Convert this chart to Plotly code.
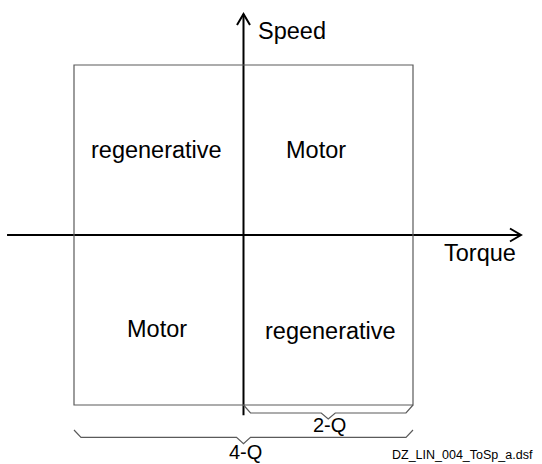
import plotly.graph_objects as go

# ---- data (torque / speed plane, normalised units) ----
box_torque = [-1, 1]            # extent of the operating box
box_speed = [-1, 1]
torque_axis = [-1.395, 1.637]    # extent of the torque axis line
speed_axis = [-1.06, 1.30]       # extent of the speed axis line

quad_labels = ["regenerative", "Motor", "Motor", "regenerative"]
quad_x = [-0.513, 0.428, -0.51, 0.513]
quad_y = [0.50, 0.50, -0.555, -0.565]

axis_titles = ["Speed", "Torque"]
axis_title_x = [0.075, 1.172]
axis_title_y = [1.20, -0.105]

brace_labels = ["2-Q", "4-Q"]
brace_start = [0, -1]
brace_end = [1, 1]
brace_top = [-1.0, -1.147]
brace_mid = [-1.047, -1.19]
brace_tip = [-1.082, -1.228]
brace_label_y = [-1.12, -1.275]

footnote = "DZ_LIN_004_ToSp_a.dsf"

FONT = "Liberation Sans, Arial, sans-serif"
W, H = 542, 464
XR = [-1.4366, 1.7611]
YR = [-1.347, 1.3824]
sx = W / (XR[1] - XR[0])
sy = H / (YR[1] - YR[0])

fig = go.Figure()

# box
fig.add_shape(type="rect", x0=box_torque[0], x1=box_torque[1],
              y0=box_speed[0], y1=box_speed[1],
              line=dict(color="#5a5a5a", width=1.2), fillcolor="rgba(0,0,0,0)")

# axes
fig.add_trace(go.Scatter(x=torque_axis, y=[0, 0], mode="lines",
                         line=dict(color="black", width=2), hoverinfo="skip"))
fig.add_trace(go.Scatter(x=[0, 0], y=speed_axis, mode="lines",
                         line=dict(color="black", width=2), hoverinfo="skip"))
# arrow heads (open chevrons)
ah_len, ah_w = 11, 6.5
tx = torque_axis[1]
fig.add_trace(go.Scatter(x=[tx - ah_len / sx, tx, tx - ah_len / sx],
                         y=[ah_w / sy, 0, -ah_w / sy], mode="lines",
                         line=dict(color="black", width=2), hoverinfo="skip"))
ty = speed_axis[1]
fig.add_trace(go.Scatter(x=[-ah_w / sx, 0, ah_w / sx],
                         y=[ty - ah_len / sy, ty, ty - ah_len / sy], mode="lines",
                         line=dict(color="black", width=2), hoverinfo="skip"))

# braces
cx = 7 / sx
for x0, x1, yt, ym, yp in zip(brace_start, brace_end, brace_top, brace_mid, brace_tip):
    xm = (x0 + x1) / 2
    xs = [x0, x0 + cx, xm - cx, xm, xm + cx, x1 - cx, x1]
    ys = [yt, ym, ym, yp, ym, ym, yt]
    fig.add_trace(go.Scatter(x=xs, y=ys, mode="lines",
                             line=dict(color="#5a5a5a", width=1.2), hoverinfo="skip"))

annotations = []
for t, x, y in zip(quad_labels, quad_x, quad_y):
    annotations.append(dict(x=x, y=y, text=t, showarrow=False,
                            font=dict(family=FONT, size=23.5, color="black"),
                            xanchor="center", yanchor="middle"))
for t, x, y in zip(axis_titles, axis_title_x, axis_title_y):
    annotations.append(dict(x=x, y=y, text=t, showarrow=False,
                            font=dict(family=FONT, size=23.5, color="black"),
                            xanchor="left", yanchor="middle"))
for t, x0, x1, y in zip(brace_labels, brace_start, brace_end, brace_label_y):
    annotations.append(dict(x=(x0 + x1) / 2 + 0.01, y=y, text=t, showarrow=False,
                            font=dict(family=FONT, size=20, color="black"),
                            xanchor="center", yanchor="middle"))
annotations.append(dict(xref="paper", yref="paper", x=535 / W, y=1 - 464 / H,
                        text=footnote, showarrow=False,
                        font=dict(family=FONT, size=12.5, color="black"),
                        xanchor="right", yanchor="bottom"))

fig.update_layout(
    width=W, height=H, margin=dict(l=0, r=0, t=0, b=0),
    paper_bgcolor="white", plot_bgcolor="white", showlegend=False,
    xaxis=dict(range=XR, visible=False, fixedrange=True),
    yaxis=dict(range=YR, visible=False, fixedrange=True),
    annotations=annotations,
)

fig.write_html("out.html", config={"displayModeBar": False, "staticPlot": True},
               post_script="document.body.style.margin='0';document.body.style.overflow='hidden';")
